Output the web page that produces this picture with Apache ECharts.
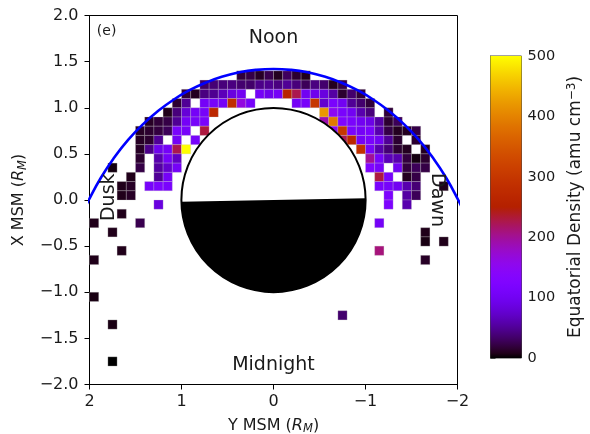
<!DOCTYPE html>
<html><head><meta charset="utf-8">
<script src="https://cdn.jsdelivr.net/npm/echarts@6/dist/echarts.min.js"></script>
<style>html,body{margin:0;padding:0;background:#fff}#c{width:590px;height:434px}</style>
</head><body><div id="c"></div>
<script>
// ---------------- data (Y MSM, X MSM in R_M; density in amu cm^-3) ----------------
const N = null;
// band segments: row centre X, Y centre of first cell (cells step by -0.1 in Y), densities
const segX = [1.35, 1.25, 1.15, 1.05, 1.05, 0.95, 0.95, 0.85, 0.85, 0.75, 0.75, 0.65, 0.65,
              0.55, 0.55, 0.45, 0.45, 0.35, 0.35, 0.25, 0.25, 0.15, 0.15, 0.05, 0.05, -0.05, -0.05];
const segStartY = [0.35, 0.75, 0.95, 1.05, -0.25, 1.15, -0.55, 1.35, -0.55, 1.45, -0.65, 1.45, -0.75,
                   1.45, -0.95, 1.45, -1.05, 1.75, -1.05, 1.55, -1.15, 1.65, -1.15, 1.65, -1.25, 1.25, -1.25];
const segDensity = [
  [18, 22, 12, 25, 10, 30, 15, 8],
  [32, 38, 40, 42, 36, 34, 45, 48, 42, 50, 40, 28, 42, 35, 10, 22],
  [18, 10, 42, 48, 65, 85, 100, N, 105, 95, 105, 260, 225, 100, 95, 85, 55, 15, 35, 18],
  [15, 50, N, 105, 110, 105, 280, 165, 110],
  [105, 110, 300, 75, 115, 100, 50, 35, 18],
  [8, 40, 80, 105, 110, 270],
  [420, 150, 115, 100, 60, 40, N, 18],
  [12, 18, 22, 50, 105, 110, 115],
  [190, 390, 125, 115, 100, 90, 55, 15, 28],
  [12, 15, 20, 28, 115, 110, N, 230],
  [150, 300, 115, 105, 115, 60, 22, 10, 10, 22],
  [12, 15, 50, N, 105, N, 110],
  [225, 265, 105, 115, 100, 50, 15, N, 15],
  [12, 45, 95, 105, 225, 500],
  [290, 110, 60, 38, 15, 10, N, 10],
  [15, N, 60, 105, 70],
  [200, 110, 65, 60, 20, 5, 15],
  [5, N, N, 22, N, 55, 75, 105],
  [125, 110, N, 100, 20, 28, 22],
  [8, N, N, 50, 105],
  [230, 110, N, 10, 22],
  [8, 12, N, 110, 120, 115],
  [115, 110, 100, 60, 38, N, N, 8],
  [8, 12],
  [120, N, 55, 28],
  [85],
  [120, N, 60]
];
// isolated cells on the night side
const sparseY = [1.65, 1.95, 1.45, -1.15, 1.75, -1.65, -1.65, -1.85, 1.65, -1.15, 1.95, -1.65, 1.95, -0.75, 1.75, 1.75];
const sparseX = [-0.15, -0.25, -0.25, -0.25, -0.35, -0.35, -0.45, -0.45, -0.55, -0.55, -0.65, -0.65, -1.05, -1.25, -1.35, -1.75];
const sparseDensity = [8, 8, 25, 105, 8, 8, 6, 8, 8, 210, 8, 12, 6, 35, 6, 0];
// magnetopause boundary (Y, X)
const mpY = [2.094, 2.008, 1.873, 1.729, 1.578, 1.420, 1.256, 1.087, 0.913, 0.735, 0.554, 0.371, 0.186, 0,
             -0.186, -0.371, -0.554, -0.735, -0.913, -1.087, -1.256, -1.420, -1.578, -1.729, -1.873, -2.008, -2.094];
const mpX = [-0.183, 0, 0.247, 0.463, 0.654, 0.820, 0.964, 1.087, 1.190, 1.273, 1.338, 1.384, 1.411, 1.42,
             1.411, 1.384, 1.338, 1.273, 1.190, 1.087, 0.964, 0.820, 0.654, 0.463, 0.247, 0, -0.183];
// planet
const planetY = [0], planetX = [0], planetR = 1;
// axis ticks
const xTicks = [2, 1, 0, -1, -2];
const yTicks = [2.0, 1.5, 1.0, 0.5, 0.0, -0.5, -1.0, -1.5, -2.0];
const cbarTicks = [0, 100, 200, 300, 400, 500];
// annotations
const annText = ['Noon', 'Midnight', 'Dusk', 'Dawn', '(e)'];
const annY = [0, 0, 1.79, -1.78, 1.92];
const annX = [1.755, -1.79, 0.03, 0.0, 1.83];

// ---------------- build ----------------
const CELL = 0.1;
const cells = [];
segX.forEach((x, s) => segDensity[s].forEach((v, i) => {
  if (v !== null) cells.push([+(segStartY[s] - i * CELL).toFixed(2), x, v]);
}));
sparseY.forEach((y, i) => cells.push([y, sparseX[i], sparseDensity[i]]));

function gnuplot(t) {
  const r = Math.sqrt(t), g = t * t * t, b = Math.max(0, Math.sin(2 * Math.PI * t));
  const h = v => ('0' + Math.round(Math.min(1, v) * 255).toString(16)).slice(-2);
  return '#' + h(r) + h(g) + h(b);
}
const cmap = [];
for (let i = 0; i <= 64; i++) cmap.push(gnuplot(i / 64));
const gradStops = cmap.map((c, i) => ({offset: i / 64, color: c}));

const FONT = 'DejaVu Sans';
const minus = s => String(s).replace('-', '\u2212');
const TXT = '#1a1a1a';

const chart = echarts.init(document.getElementById('c'), null, {renderer: 'canvas'});
chart.setOption({
  animation: false,
  backgroundColor: '#fff',
  grid: [
    {left: 89.5, top: 15.5, width: 368, height: 369, show: true, borderColor: '#000', borderWidth: 1,
     backgroundColor: 'transparent', containLabel: false, outerBoundsMode: 'none'},
    {left: 490.5, top: 56, width: 31, height: 302, show: true, borderColor: '#444', borderWidth: 1,
     containLabel: false, outerBoundsMode: 'none'}
  ],
  xAxis: [
    {gridIndex: 0, type: 'value', min: -2, max: 2, interval: 1, inverse: true,
     axisLine: {show: true, onZero: false, lineStyle: {color: '#000', width: 1}},
     axisTick: {show: true, inside: false, length: 5, lineStyle: {color: '#000'}},
     splitLine: {show: false},
     axisLabel: {fontFamily: FONT, fontSize: 16, color: TXT, margin: 9, formatter: v => minus(v)},
     name: '{t|Y MSM (}{i|R}{s|M}{t|)}', nameLocation: 'middle', nameGap: 31,
     nameTextStyle: {rich: {
       t: {fontFamily: FONT, fontSize: 16, color: TXT, lineHeight: 20, verticalAlign: 'middle'},
       i: {fontFamily: FONT, fontSize: 16, color: TXT, fontStyle: 'italic', lineHeight: 20, verticalAlign: 'middle'},
       s: {fontFamily: FONT, fontSize: 11.5, color: TXT, fontStyle: 'italic', lineHeight: 10, verticalAlign: 'bottom'}}}},
    {gridIndex: 1, type: 'value', min: 0, max: 1, show: false}
  ],
  yAxis: [
    {gridIndex: 0, type: 'value', min: -2, max: 2, interval: 0.5,
     axisLine: {show: true, onZero: false, lineStyle: {color: '#000', width: 1}},
     axisTick: {show: true, inside: false, length: 5, lineStyle: {color: '#000'}},
     splitLine: {show: false},
     axisLabel: {fontFamily: FONT, fontSize: 16, color: TXT, margin: 11, formatter: v => minus(v.toFixed(1))},
     name: '{t|X MSM (}{i|R}{s|M}{t|)}', nameLocation: 'middle', nameGap: 57, nameRotate: 90,
     nameTextStyle: {rich: {
       t: {fontFamily: FONT, fontSize: 16, color: TXT, lineHeight: 20, verticalAlign: 'middle'},
       i: {fontFamily: FONT, fontSize: 16, color: TXT, fontStyle: 'italic', lineHeight: 20, verticalAlign: 'middle'},
       s: {fontFamily: FONT, fontSize: 11.5, color: TXT, fontStyle: 'italic', lineHeight: 10, verticalAlign: 'bottom'}}}},
    {gridIndex: 1, type: 'value', min: 0, max: 500, interval: 100, position: 'right',
     axisLine: {show: true, lineStyle: {color: '#444'}},
     axisTick: {show: true, inside: false, length: 5, lineStyle: {color: '#444'}},
     splitLine: {show: false},
     axisLabel: {fontFamily: FONT, fontSize: 14.5, color: TXT, margin: 6},
     name: '{t|Equatorial Density (amu cm}{p|\u22123}{t|)}', nameLocation: 'middle', nameGap: 44, nameRotate: 90,
     nameTextStyle: {rich: {
       t: {fontFamily: FONT, fontSize: 17, color: TXT, lineHeight: 20, verticalAlign: 'middle'},
       p: {fontFamily: FONT, fontSize: 12, color: TXT, lineHeight: 10, verticalAlign: 'top'}}}}
  ],
  visualMap: {type: 'continuous', show: false, min: 0, max: 500, dimension: 2, seriesIndex: 0,
              inRange: {color: cmap}},
  series: [
    {type: 'custom', xAxisIndex: 0, yAxisIndex: 0, data: cells, encode: {x: 0, y: 1}, z: 2,
     renderItem: (params, api) => {
       const y = api.value(0), x = api.value(1);
       const p1 = api.coord([y + CELL / 2, x + CELL / 2]);
       const p2 = api.coord([y - CELL / 2, x - CELL / 2]);
       return {type: 'rect',
         shape: {x: Math.min(p1[0], p2[0]), y: Math.min(p1[1], p2[1]),
                 width: Math.abs(p2[0] - p1[0]), height: Math.abs(p2[1] - p1[1])},
         style: {fill: api.visual('color'), stroke: 'rgba(200,200,200,0.45)', lineWidth: 0.6}};
     }},
    {type: 'line', xAxisIndex: 0, yAxisIndex: 0, data: mpY.map((y, i) => [y, mpX[i]]),
     smooth: true, showSymbol: false, symbol: 'none', z: 4, clip: true,
     lineStyle: {color: '#0000ff', width: 2.6}},
    {type: 'custom', xAxisIndex: 0, yAxisIndex: 0, data: planetY.map((y, i) => [y, planetX[i]]), z: 5,
     renderItem: (params, api) => {
       const c = api.coord([api.value(0), api.value(1)]);
       const r = api.size([planetR, planetR]);
       const R = (r[0] + r[1]) / 2;
       const tilt = 0.02;
       return {type: 'group', children: [
         {type: 'circle', shape: {cx: c[0], cy: c[1], r: R}, style: {fill: '#fff'}},
         {type: 'sector', shape: {cx: c[0], cy: c[1], r: R, r0: 0, startAngle: -tilt, endAngle: Math.PI - tilt, clockwise: true},
          style: {fill: '#000'}},
         {type: 'circle', shape: {cx: c[0], cy: c[1], r: R}, style: {fill: 'none', stroke: '#000', lineWidth: 2}}
       ]};
     }},
    {type: 'custom', xAxisIndex: 0, yAxisIndex: 0, data: annY.map((y, i) => [y, annX[i], i]), z: 6,
     renderItem: (params, api) => {
       const i = api.value(2);
       const p = api.coord([api.value(0), api.value(1)]);
       const t = annText[i];
       const rot = t === 'Dusk' ? Math.PI / 2 : (t === 'Dawn' ? -Math.PI / 2 : 0);
       const size = t === '(e)' ? 14 : 19;
       return {type: 'text', x: p[0], y: p[1], rotation: rot,
         style: {text: t, fontFamily: FONT, fontSize: size, fill: TXT,
                 align: t === '(e)' ? 'left' : 'center', verticalAlign: 'middle'}};
     }},
    {type: 'custom', xAxisIndex: 1, yAxisIndex: 1, data: [[0, cbarTicks[0]]], z: 2,
     renderItem: (params, api) => {
       const a = api.coord([0, cbarTicks[0]]);
       const b = api.coord([1, cbarTicks[cbarTicks.length - 1]]);
       return {type: 'rect', shape: {x: a[0], y: b[1], width: b[0] - a[0], height: a[1] - b[1]},
         style: {fill: new echarts.graphic.LinearGradient(0, 1, 0, 0, gradStops)}};
     }}
  ]
});
</script></body></html>
